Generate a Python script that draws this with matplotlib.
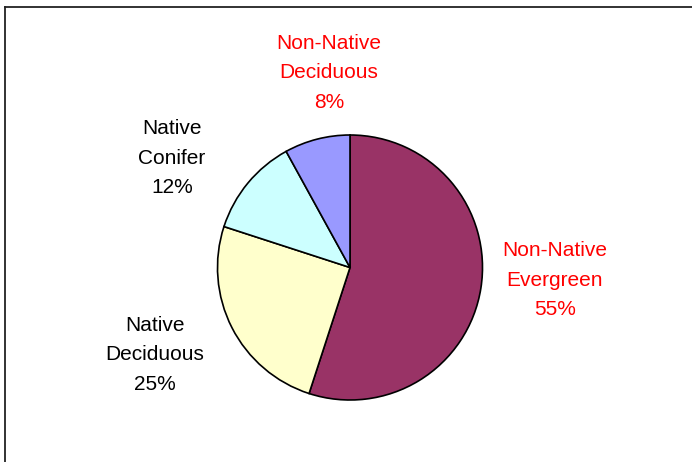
import matplotlib
matplotlib.use("Agg")
import matplotlib.pyplot as plt
from matplotlib.lines import Line2D

categories = ["Non-Native\nEvergreen", "Native\nDeciduous", "Native\nConifer", "Non-Native\nDeciduous"]
values = [55, 25, 12, 8]
colors = ["#993366", "#FFFFCC", "#CCFFFF", "#9999FF"]
label_colors = ["#FF0000", "#000000", "#000000", "#FF0000"]
label_pos = [(555, 280), (155, 355), (172, 158), (329, 73)]  # pixel coords (from top)

W, H = 692, 462
fig = plt.figure(figsize=(W / 100, H / 100), dpi=100)
ax = fig.add_axes([0, 0, 1, 1])

ax.pie(values, colors=colors, startangle=90, counterclock=False,
       center=(350, H - 267.5), radius=132.5,
       wedgeprops=dict(edgecolor="black", linewidth=1.2))
ax.set_xlim(0, W)
ax.set_ylim(0, H)
ax.set_aspect("equal")
ax.axis("off")

for cat, v, c, (x, y) in zip(categories, values, label_colors, label_pos):
    ax.text(x, H - y, f"{cat}\n{v}%", color=c, ha="center", va="center",
            fontsize=15, family="Liberation Sans", linespacing=1.68)

# border (left and top visible)
fig.add_artist(Line2D([4.5 / W, 4.5 / W], [0, 1 - 7.3 / H], transform=fig.transFigure,
                      color="#222222", linewidth=1.3))
fig.add_artist(Line2D([4.5 / W, 1], [1 - 7.3 / H, 1 - 7.3 / H], transform=fig.transFigure,
                      color="#222222", linewidth=1.3))

fig.savefig("out.png", dpi=100)
